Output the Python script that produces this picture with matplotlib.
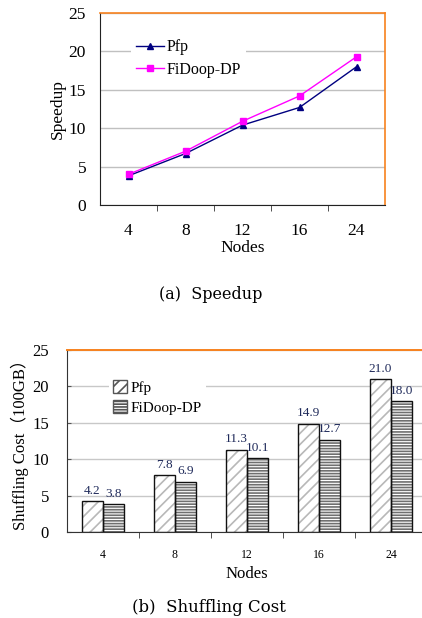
import numpy as np
import matplotlib.pyplot as plt
from matplotlib.patches import Patch

plt.rcParams['font.family'] = ['Liberation Serif', 'Noto Sans CJK SC', 'DejaVu Sans']
plt.rcParams['hatch.linewidth'] = 1.2

# data
nodes = ['4', '8', '12', '16', '24']
speedup_pfp = [3.8, 6.7, 10.4, 12.7, 18.0]
speedup_fidoop = [4.0, 7.0, 10.9, 14.2, 19.3]
shuffle_pfp = [4.2, 7.8, 11.3, 14.9, 21.0]
shuffle_fidoop = [3.8, 6.9, 10.1, 12.7, 18.0]

orange = '#f7821e'
x = np.arange(len(nodes))

fig = plt.figure(figsize=(4.22, 6.18), dpi=100)

# (a) speedup
ax1 = fig.add_axes([100 / 422, 1 - 205 / 618, 285 / 422, 192 / 618])
ax1.plot(x, speedup_pfp, color='#000080', marker='^', markersize=5, lw=1, label='Pfp')
ax1.plot(x, speedup_fidoop, color='#ff00ff', marker='s', markersize=4.5, lw=1, label='FiDoop-DP')
ax1.set_xlim(-0.5, 4.5)
ax1.set_ylim(0, 25)
ax1.set_yticks([0, 5, 10, 15, 20, 25])
ax1.set_xticks(x)
ax1.set_xticklabels(nodes)
ax1.set_xticks(np.arange(0.5, 4, 1), minor=True)
ax1.tick_params(axis='x', which='major', length=0, labelsize=12.5, pad=13)
ax1.tick_params(axis='x', which='minor', length=4, direction='out', color='#333')
ax1.tick_params(axis='y', length=0, labelsize=12.5, pad=10)
ax1.yaxis.grid(True, color='#c0c0c0', lw=1)
ax1.set_axisbelow(True)
for s in ['top', 'right']:
    ax1.spines[s].set_color(orange)
    ax1.spines[s].set_linewidth(1.2)
for s in ['left', 'bottom']:
    ax1.spines[s].set_color('#222')
ax1.set_ylabel('Speedup', fontsize=12.5, labelpad=2)
ax1.set_xlabel('Nodes', fontsize=12.5, labelpad=1)
ax1.legend(loc='upper left', bbox_to_anchor=(0.08, 0.93), frameon=True,
           facecolor='white', edgecolor='none', framealpha=1, fancybox=False,
           fontsize=11.5, handlelength=1.8, handletextpad=0.15, labelspacing=0.4,
           borderpad=0.3)

# (b) shuffling cost
ax2 = fig.add_axes([67 / 422, 1 - 532 / 618, 360 / 422, 182 / 618])
w = 0.29
ax2.bar(x - w / 2, shuffle_pfp, w, color='white', edgecolor='#b8b8b8', hatch='///', lw=0)
ax2.bar(x + w / 2, shuffle_fidoop, w, color='white', edgecolor='#707070', hatch='------', lw=0)
ax2.bar(x - w / 2, shuffle_pfp, w, fill=False, edgecolor='#111', lw=1)
ax2.bar(x + w / 2, shuffle_fidoop, w, fill=False, edgecolor='#111', lw=1)
for i in range(len(nodes)):
    ax2.text(x[i] - w / 2, shuffle_pfp[i] + 0.6, f'{shuffle_pfp[i]:.1f}', ha='center',
             va='bottom', fontsize=9.5, color='#1f2a5a')
    ax2.text(x[i] + w / 2, shuffle_fidoop[i] + 0.6, f'{shuffle_fidoop[i]:.1f}', ha='center',
             va='bottom', fontsize=9.5, color='#1f2a5a')
ax2.set_xlim(-0.5, 4.5)
ax2.set_ylim(0, 25)
ax2.set_yticks([0, 5, 10, 15, 20, 25])
ax2.set_xticks(x)
ax2.set_xticklabels(nodes)
ax2.set_xticks(np.arange(0.5, 4, 1), minor=True)
ax2.tick_params(axis='x', which='major', length=0, labelsize=8.5, pad=12)
ax2.tick_params(axis='x', which='minor', length=4, direction='out', color='#333')
ax2.tick_params(axis='y', length=3, direction='in', labelsize=12, pad=13, color='#555')
ax2.yaxis.grid(True, color='#c8c8c8', lw=1)
ax2.set_axisbelow(True)
ax2.spines['top'].set_color(orange)
ax2.spines['top'].set_linewidth(1.4)
ax2.spines['right'].set_visible(False)
for s in ['left', 'bottom']:
    ax2.spines[s].set_color('#333')
ax2.set_ylabel('Shuffling Cost（100GB）', fontsize=12, labelpad=2)
ax2.set_xlabel('Nodes', fontsize=12, labelpad=4)
handles = [Patch(facecolor='white', edgecolor='#555', hatch='///'),
           Patch(facecolor='white', edgecolor='#555', hatch='------')]
ax2.legend(handles, ['Pfp', 'FiDoop-DP'], loc='upper left',
           bbox_to_anchor=(0.095, 0.9), frameon=True, facecolor='white',
           edgecolor='none', framealpha=1, fancybox=False, fontsize=11,
           handlelength=0.9, handleheight=0.9, handletextpad=0.2,
           labelspacing=0.35, borderpad=0.3)

fig.text(0.5, 1 - 295 / 618, '(a)  Speedup', ha='center', va='center', fontsize=11.5,
         family='DejaVu Serif')
fig.text(0.495, 1 - 607 / 618, '(b)  Shuffling Cost', ha='center', va='center', fontsize=12,
         family='DejaVu Serif')

fig.savefig('out.png', dpi=100)
